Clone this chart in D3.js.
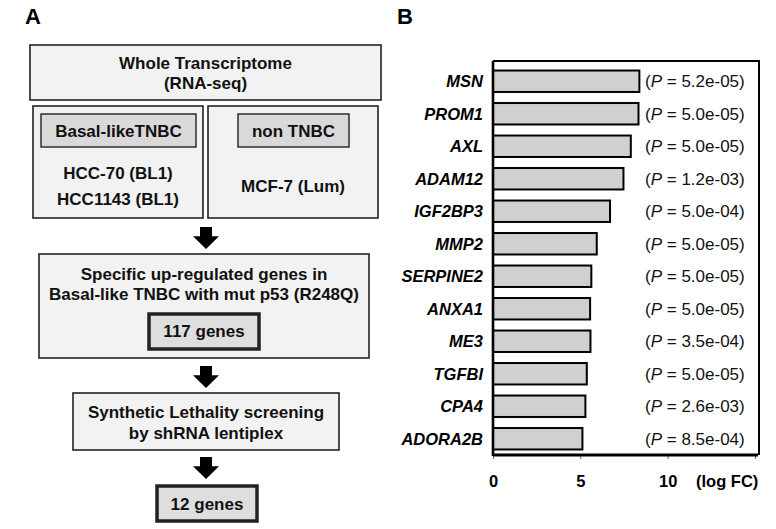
<!DOCTYPE html>
<html>
<head>
<meta charset="utf-8">
<script src="https://cdn.jsdelivr.net/npm/d3@7"></script>
<style>
  html, body { margin: 0; padding: 0; background: #fff; }
  svg { display: block; font-family: "Liberation Sans", Arial, sans-serif; }
</style>
</head>
<body>
<svg id="chart" width="776" height="529"></svg>
<script>
// Panel B data
const genes = ["MSN", "PROM1", "AXL", "ADAM12", "IGF2BP3", "MMP2", "SERPINE2", "ANXA1", "ME3", "TGFBI", "CPA4", "ADORA2B"];
const logFC = [8.38, 8.33, 7.89, 7.47, 6.70, 5.94, 5.63, 5.56, 5.58, 5.37, 5.29, 5.12];
const pValues = ["5.2e-05", "5.0e-05", "5.0e-05", "1.2e-03", "5.0e-04", "5.0e-05", "5.0e-05", "5.0e-05", "3.5e-04", "5.0e-05", "2.6e-03", "8.5e-04"];
const xTicks = [0, 5, 10, 15];
const xTickLabels = ["0", "5", "10", ""];

// Panel A text
const topLines = ["Whole Transcriptome", "(RNA-seq)"];
const basalLines = ["HCC-70 (BL1)", "HCC1143 (BL1)"];
const nonLines = ["MCF-7 (Lum)"];
const specificLines = ["Specific up-regulated genes in", "Basal-like TNBC with mut p53 (R248Q)"];
const screenLines = ["Synthetic Lethality screening", "by shRNA lentiplex"];

const svg = d3.select("#chart");

// panel letters
svg.append("text").attr("x", 25).attr("y", 24).attr("font-size", 22).attr("font-weight", "bold").text("A");
svg.append("text").attr("x", 397).attr("y", 24).attr("font-size", 22).attr("font-weight", "bold").text("B");

// ---------- Panel A: flowchart ----------
const flow = svg.append("g");

function box(x0, y0, x1, y1, fill, sw) {
  flow.append("rect")
    .attr("x", x0).attr("y", y0)
    .attr("width", x1 - x0).attr("height", y1 - y0)
    .attr("fill", fill)
    .attr("stroke", "#222")
    .attr("stroke-width", sw);
}

function lines(cx, yFirst, arr, step) {
  arr.forEach((t, i) => {
    flow.append("text")
      .attr("x", cx).attr("y", yFirst + i * step)
      .attr("text-anchor", "middle")
      .attr("dominant-baseline", "central")
      .attr("font-size", 17)
      .attr("font-weight", "bold")
      .attr("fill", "#111")
      .text(t);
  });
}

function arrow(cx, y0, tip) {
  const shaftW = 12, headW = 26, headTop = y0 + (tip - y0) * 0.42;
  const p = d3.path();
  p.moveTo(cx - shaftW / 2, y0);
  p.lineTo(cx + shaftW / 2, y0);
  p.lineTo(cx + shaftW / 2, headTop);
  p.lineTo(cx + headW / 2, headTop);
  p.lineTo(cx, tip);
  p.lineTo(cx - headW / 2, headTop);
  p.lineTo(cx - shaftW / 2, headTop);
  p.closePath();
  flow.append("path").attr("d", p.toString()).attr("fill", "#000");
}

box(30, 45, 381, 100, "#f2f2f2", 1.6);
lines(205.5, 63, topLines, 20);

box(33, 106, 203, 218, "#f2f2f2", 1.6);
box(208, 106, 378, 218, "#f2f2f2", 1.6);
box(41, 114, 196, 147, "#d9d9d9", 1.4);
box(238, 114, 349, 147, "#d9d9d9", 1.4);
lines(118.5, 131, ["Basal-likeTNBC"], 20);
lines(293.5, 131, ["non TNBC"], 20);
lines(118, 173, basalLines, 26);
lines(293, 186, nonLines, 20);

arrow(206, 227, 249);

box(39, 254, 369, 358, "#f2f2f2", 1.6);
lines(204, 274, specificLines, 20);
box(149, 314, 259, 349, "#dedede", 3.5);
lines(204, 331.5, ["117 genes"], 20);

arrow(206, 366, 388);

box(73, 393, 339, 450, "#f2f2f2", 1.6);
lines(206, 412, screenLines, 21);

arrow(206, 457, 479);

box(157, 486, 257, 521, "#dedede", 3.5);
lines(207, 504, ["12 genes"], 20);

// ---------- Panel B: bar chart ----------
const plotL = 493, plotR = 759, plotT = 61, plotB = 455;

const x = d3.scaleLinear().domain([0, 15]).range([plotL, 755]);
const y = d3.scaleBand().domain(genes).range([65, 455]).paddingInner(0.34).paddingOuter(0.17);

const g = svg.append("g");

// frame (top and right)
g.append("path")
  .attr("d", `M${plotL},${plotT}H${plotR}V${plotB}`)
  .attr("fill", "none").attr("stroke", "#000").attr("stroke-width", 2);

g.selectAll("rect.bar")
  .data(genes)
  .join("rect")
  .attr("class", "bar")
  .attr("x", x(0))
  .attr("y", d => y(d))
  .attr("width", (d, i) => x(logFC[i]) - x(0))
  .attr("height", y.bandwidth())
  .attr("fill", "#d0d0d0")
  .attr("stroke", "#000")
  .attr("stroke-width", 2);

g.selectAll("text.gene")
  .data(genes)
  .join("text")
  .attr("class", "gene")
  .attr("x", 483)
  .attr("y", d => y(d) + y.bandwidth() / 2)
  .attr("text-anchor", "end")
  .attr("dominant-baseline", "central")
  .attr("font-size", 16.5)
  .attr("font-weight", "bold")
  .attr("font-style", "italic")
  .text(d => d);

const pt = g.selectAll("text.pval")
  .data(genes)
  .join("text")
  .attr("class", "pval")
  .attr("x", 645)
  .attr("y", d => y(d) + y.bandwidth() / 2)
  .attr("dominant-baseline", "central")
  .attr("font-size", 17)
  .attr("fill", "#111");
pt.append("tspan").text("(");
pt.append("tspan").attr("font-style", "italic").text("P");
pt.append("tspan").text((d, i) => ` = ${pValues[i]})`);

// left axis
g.append("line")
  .attr("x1", plotL).attr("x2", plotL)
  .attr("y1", plotT).attr("y2", plotB + 1)
  .attr("stroke", "#000").attr("stroke-width", 2.6);

// bottom axis
const xAxis = d3.axisBottom(x).tickValues(xTicks).tickSize(4).tickFormat((d, i) => xTickLabels[i]);
const ax = g.append("g").attr("transform", `translate(0,${plotB})`).call(xAxis);
ax.select(".domain").remove();
ax.selectAll(".tick line").attr("stroke", "#666").attr("stroke-width", 1);
ax.selectAll(".tick text")
  .attr("y", 26)
  .attr("dy", null)
  .attr("dominant-baseline", "central")
  .attr("font-family", "Liberation Sans, Arial, sans-serif")
  .attr("font-size", 16.5)
  .attr("font-weight", "bold")
  .attr("fill", "#000");
g.append("line")
  .attr("x1", plotL).attr("x2", 758)
  .attr("y1", plotB).attr("y2", plotB)
  .attr("stroke", "#000").attr("stroke-width", 3);

g.append("text")
  .attr("x", 696).attr("y", plotB + 26)
  .attr("dominant-baseline", "central")
  .attr("font-size", 16.5).attr("font-weight", "bold")
  .text("(log FC)");
</script>
</body>
</html>
